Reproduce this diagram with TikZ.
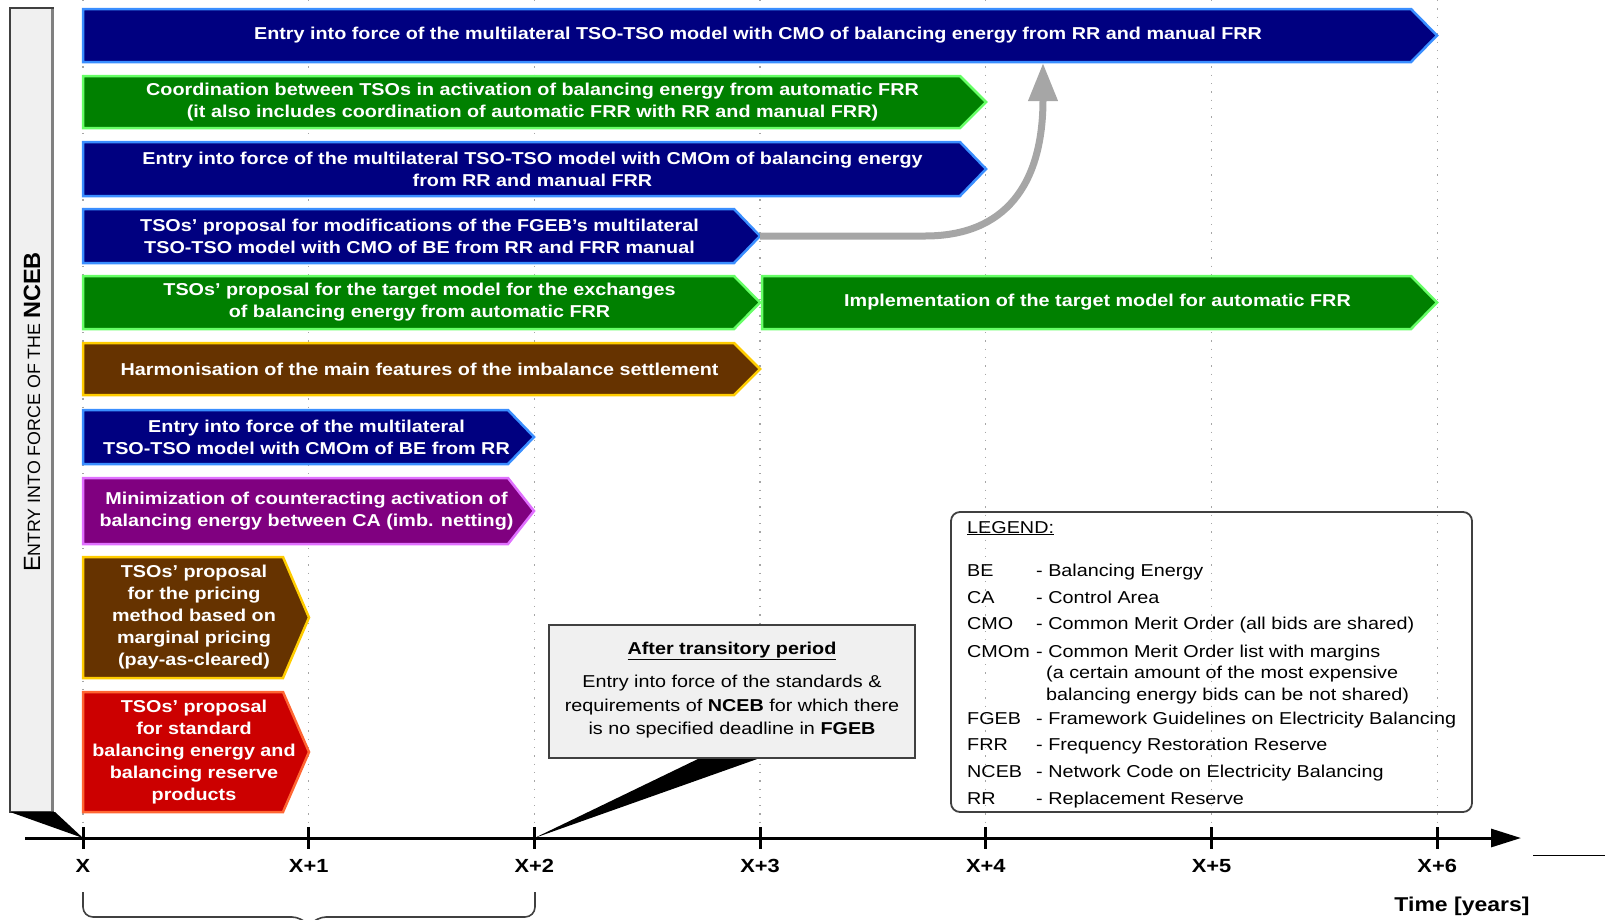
\documentclass[tikz,border=0pt]{standalone}
\usepackage{fontspec}
\setmainfont{Liberation Sans}[FakeStretch=1.15]
\newfontfamily\vfont{Liberation Sans}
\usetikzlibrary{arrows.meta}
\definecolor{bblue}{HTML}{000080}
\definecolor{lblue}{HTML}{3A8EFF}
\definecolor{bgreen}{HTML}{008000}
\definecolor{lgreen}{HTML}{66FF66}
\definecolor{bbrown}{HTML}{663300}
\definecolor{lbrown}{HTML}{FFCC00}
\definecolor{bpurple}{HTML}{800080}
\definecolor{lpurple}{HTML}{E070FF}
\definecolor{bred}{HTML}{CC0000}
\definecolor{lred}{HTML}{FF6633}
\definecolor{boxgray}{HTML}{F0F0F0}
\definecolor{arrgray}{HTML}{A6A6A6}
\definecolor{edgegray}{HTML}{404040}
\newcommand\tlbar[8]{%
  \filldraw[fill=#6,draw=#7,line width=2.5pt,line join=miter]
    (#2,#4) -- ({#3-26},#4) -- (#3,{(#4+#5)/2}) -- ({#3-26},#5) -- (#2,#5) -- cycle;
  \node[bartext] (#1) at ({(#2+#3)/2-2},{(#4+#5)/2}) {#8};
  \coordinate (#1-tip) at (#3,{(#4+#5)/2});
}
\begin{document}
\begin{tikzpicture}[x=1pt,y=-1pt,
  bartext/.style={text=white,font=\bfseries\fontsize{17.2}{22}\selectfont,align=center,inner sep=0pt},
  gridline/.style={gray!70,line width=1.3pt,dash pattern=on 1.3pt off 7pt},
  leg/.style={anchor=base west,inner sep=0pt,font=\fontsize{17.2}{21}\selectfont},
  axlab/.style={font=\bfseries\fontsize{19}{19}\selectfont,inner sep=0pt},
  ]
\useasboundingbox (0,0) rectangle (1605,919);
% grid
\foreach \k in {0,...,6} {
  \coordinate (t\k) at ({83+225.7*\k},838);
  \draw[gridline] ({83+225.7*\k},0) -- ({83+225.7*\k},830);
}
% bars
\tlbar{r1}{83}{1437}{9}{62}{bblue}{lblue}{Entry into force of the multilateral TSO-TSO model with CMO of balancing energy from RR and manual FRR}
\tlbar{r2}{83}{986}{76}{128}{bgreen}{lgreen}{Coordination between TSOs in activation of balancing energy from automatic FRR\\(it also includes coordination of automatic FRR with RR and manual FRR)}
\tlbar{r3}{83}{986}{142}{196}{bblue}{lblue}{Entry into force of the multilateral TSO-TSO model with CMOm of balancing energy\\from RR and manual FRR}
\tlbar{r4}{83}{760}{209}{263}{bblue}{lblue}{TSOs’ proposal for modifications of the FGEB’s multilateral\\TSO-TSO model with CMO of BE from RR and FRR manual}
\tlbar{r5}{83}{760}{276}{329}{bgreen}{lgreen}{TSOs’ proposal for the target model for the exchanges\\of balancing energy from automatic FRR}
\tlbar{r5b}{762}{1437}{276}{329}{bgreen}{lgreen}{Implementation of the target model for automatic FRR}
\tlbar{r6}{83}{760}{343}{395}{bbrown}{lbrown}{Harmonisation of the main features of the imbalance settlement}
\tlbar{r7}{83}{534}{410}{464}{bblue}{lblue}{Entry into force of the multilateral\\TSO-TSO model with CMOm of BE from RR}
\tlbar{r8}{83}{534}{478}{544}{bpurple}{lpurple}{Minimization of counteracting activation of\\balancing energy between CA (imb. netting)}
\tlbar{r9}{83}{309}{557}{678}{bbrown}{lbrown}{TSOs’ proposal\\for the pricing\\method based on\\marginal pricing\\(pay-as-cleared)}
\tlbar{r10}{83}{309}{692}{812}{bred}{lred}{TSOs’ proposal\\for standard\\balancing energy and\\balancing reserve\\products}
% gray arrow
\coordinate (r1arr) at (1043,63);
\draw[line width=7pt,color=arrgray,-{Triangle[length=38pt,width=28pt]}]
  (r4-tip) -- (925,236) .. controls (1005,236) and (1043,185) .. (r1arr);
% left vertical box
\draw[fill=boxgray,draw=edgegray,line width=1.5pt] (10,8) rectangle (53,812);
\draw[gray,line width=3pt] (52,9) -- (52,811);
\fill[black] (10,812) -- (55,812) -- (t0) -- cycle;
\node[rotate=90,inner sep=0pt] (vt) at (32,412)
  {\vfont\fontsize{23.5}{23.5}\selectfont E\fontsize{17.8}{17.8}\selectfont NTRY INTO FORCE OF THE \bfseries\fontsize{23.5}{23.5}\selectfont NCEB};
% axis
\coordinate (axs) at (25,838);
\coordinate (axe) at (1521,838);
\draw[line width=3pt,-{Triangle[length=30pt,width=18pt]}] (axs) -- (axe);
\foreach \k in {0,...,6} { \draw[line width=3pt] (t\k) ++(0,-11) -- ++(0,22); }
\node[axlab] (l0) at ({83},866) {X};
\node[axlab] (l1) at ({83+225.7},866) {X+1};
\node[axlab] (l2) at ({83+2*225.7},866) {X+2};
\node[axlab] (l3) at ({83+3*225.7},866) {X+3};
\node[axlab] (l4) at ({83+4*225.7},866) {X+4};
\node[axlab] (l5) at ({83+5*225.7},866) {X+5};
\node[axlab] (l6) at ({83+6*225.7},866) {X+6};
\node[font=\bfseries\fontsize{20}{20}\selectfont,inner sep=0pt] (tl) at (1462,906) {Time [years]};
\draw[line width=1pt] (1533,855) -- (1605,855);
% brace
\draw[edgegray,line width=1.6pt,rounded corners=10pt] (83,892) -- (83,917) -- (302,917) -- (309,926);
\draw[edgegray,line width=1.6pt,rounded corners=10pt] (535,892) -- (535,917) -- (316,917) -- (309,926);
% callout
\fill[black] (t2) -- (700,758) -- (760,758) -- cycle;
\node[draw=edgegray,fill=boxgray,line width=1.5pt,minimum width=366pt,minimum height=133pt,inner sep=0pt] (call) at (732,691.5) {};
\node[font=\bfseries\fontsize{17.2}{20}\selectfont,inner sep=0pt] (ctitle) at (732,651) {\underline{After transitory period}};
\node[font=\fontsize{17.2}{23.5}\selectfont,align=center,inner sep=0pt] (ctext) at (732,707)
  {Entry into force of the standards \&\\requirements of \textbf{NCEB} for which there\\is no specified deadline in \textbf{FGEB}};
% legend
\node[draw=edgegray,line width=1.8pt,rounded corners=9pt,minimum width=521pt,minimum height=300pt,inner sep=0pt] (legbox) at (1211.5,662) {};
\node[leg] (lt) at (967,533) {\underline{LEGEND:}};
\node[leg] (a1) at (967,576) {BE};   \node[leg] (d1) at (1036,576) {- Balancing Energy};
\node[leg] (a2) at (967,603) {CA};   \node[leg] (d2) at (1036,603) {- Control Area};
\node[leg] (a3) at (967,629) {CMO};  \node[leg] (d3) at (1036,629) {- Common Merit Order (all bids are shared)};
\node[leg] (a4) at (967,657) {CMOm}; \node[leg] (d4) at (1036,657) {- Common Merit Order list with margins};
\node[leg] (d4b) at (1046,678) {(a certain amount of the most expensive};
\node[leg] (d4c) at (1046,700) {balancing energy bids can be not shared)};
\node[leg] (a5) at (967,724) {FGEB}; \node[leg] (d5) at (1036,724) {- Framework Guidelines on Electricity Balancing};
\node[leg] (a6) at (967,750) {FRR};  \node[leg] (d6) at (1036,750) {- Frequency Restoration Reserve};
\node[leg] (a7) at (967,777) {NCEB}; \node[leg] (d7) at (1036,777) {- Network Code on Electricity Balancing};
\node[leg] (a8) at (967,804) {RR};   \node[leg] (d8) at (1036,804) {- Replacement Reserve};
\end{tikzpicture}
\end{document}
